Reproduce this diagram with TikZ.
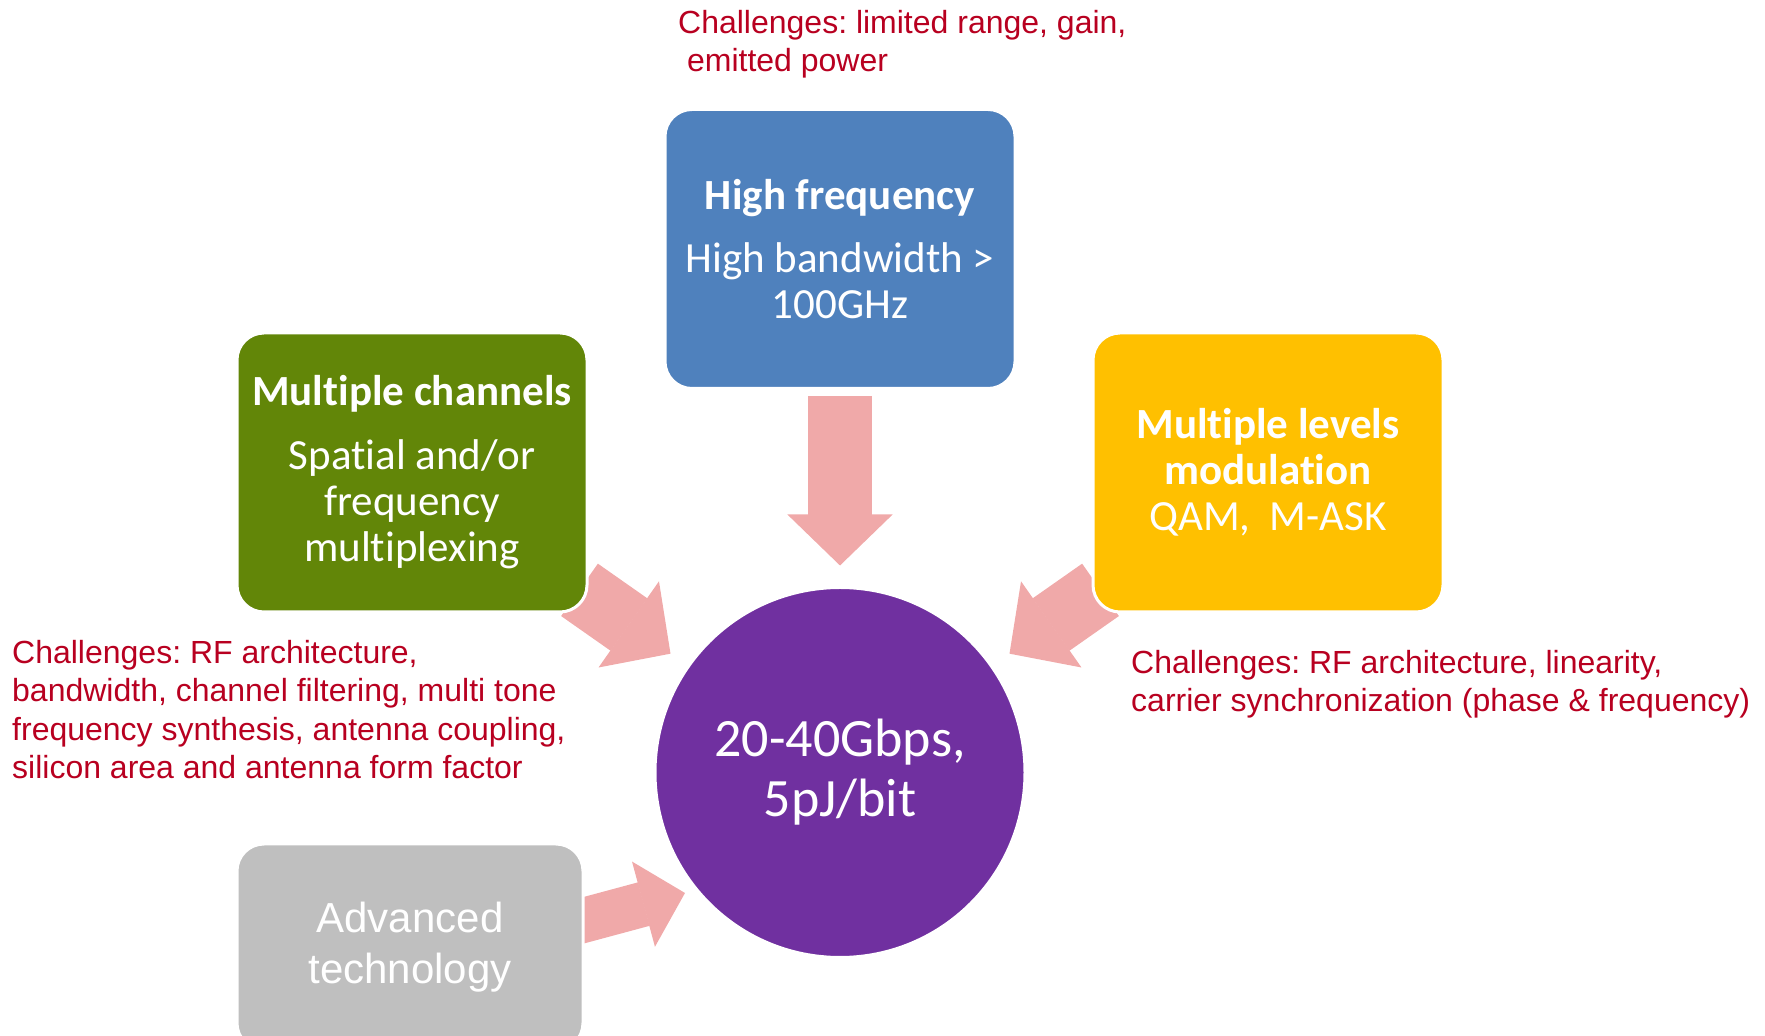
\documentclass[tikz,border=0pt]{standalone}
\usepackage{fontspec}
\setmainfont[Ligatures=CommonOff]{Carlito}
\newfontfamily\arialfont{Liberation Sans}
\usetikzlibrary{positioning,arrows.meta,backgrounds}
\frenchspacing

\definecolor{freqblue}{RGB}{79,129,189}
\definecolor{changreen}{RGB}{98,134,8}
\definecolor{modyellow}{RGB}{255,192,0}
\definecolor{techgray}{RGB}{191,191,191}
\definecolor{hubpurple}{RGB}{112,48,160}
\definecolor{feedpink}{RGB}{240,169,169}
\definecolor{challred}{RGB}{184,0,32}

\tikzset{
  block/.style={draw=white, line width=3pt, rounded corners=27pt,
    minimum width=350pt, minimum height=279pt, text=white, align=center,
    font=\fontsize{43}{46}\selectfont},
  hub/.style={circle, fill=hubpurple, draw=white, line width=3pt,
    minimum size=370pt, inner sep=0pt, text=white, align=center,
    font=\fontsize{54}{60}\selectfont},
  challenge/.style={anchor=north west, inner sep=0pt, align=left,
    text=challred, font=\arialfont\fontsize{32}{38.5}\selectfont},
  feed/.style={draw=feedpink, line width=64pt, shorten >=20.5pt,
    -{Triangle[width=105pt, length=51pt, line width=1.5pt]}},
  feed small/.style={draw=feedpink, line width=45pt,
    -{Triangle[width=88pt, length=43pt, line width=1.5pt]}}
}

\begin{document}
\begin{tikzpicture}[x=1pt, y=1pt]
\clip (0,0) rectangle (1765,1036);

% target in the middle
\node [hub] (hub) at (840,263.5) {20-40Gbps,\\5pJ/bit};

% the four ways to get there
\node [block, fill=freqblue] (freq) at (840,787)
  {\textbf{High frequency}\\[17pt]High bandwidth >\\100GHz};
\node [block, fill=changreen] (chan) at (412,563.5)
  {\textbf{Multiple channels}\\[18pt]Spatial and/or\\frequency\\multiplexing};
\node [block, fill=modyellow] (mod) at (1268,563.5)
  {\textbf{Multiple levels}\\\textbf{modulation}\\QAM,\ \ M-ASK};
\node [block, fill=techgray, minimum width=346pt, minimum height=206pt,
  font=\arialfont\fontsize{42}{51}\selectfont] (tech) at (410,89)
  {Advanced\\technology};

% challenges
\node [challenge] (freq-ch) at (678,1026)
  {Challenges: limited range, gain,\\\ emitted power};
\node [challenge] (chan-ch) at (12,396)
  {Challenges: RF architecture,\\bandwidth, channel filtering, multi tone\\frequency synthesis, antenna coupling,\\silicon area and antenna form factor};
\node [challenge] (mod-ch) at (1131,386)
  {Challenges: RF architecture, linearity,\\carrier synchronization (phase \& frequency)};

\coordinate (techtail) at ([xshift=-24pt,yshift=20.5pt]tech.east);
\coordinate (techtip) at ([xshift=-155pt,yshift=-120.5pt]hub.center);

% block arrows behind the boxes
\begin{scope}[on background layer]
\foreach \n/\s in {freq/6,chan/-11,mod/-11}
  \draw [feed, shorten <=\s pt] (\n) -- (hub);
\draw [feed small] (techtail) -- (techtip);
\end{scope}

\end{tikzpicture}
\end{document}
